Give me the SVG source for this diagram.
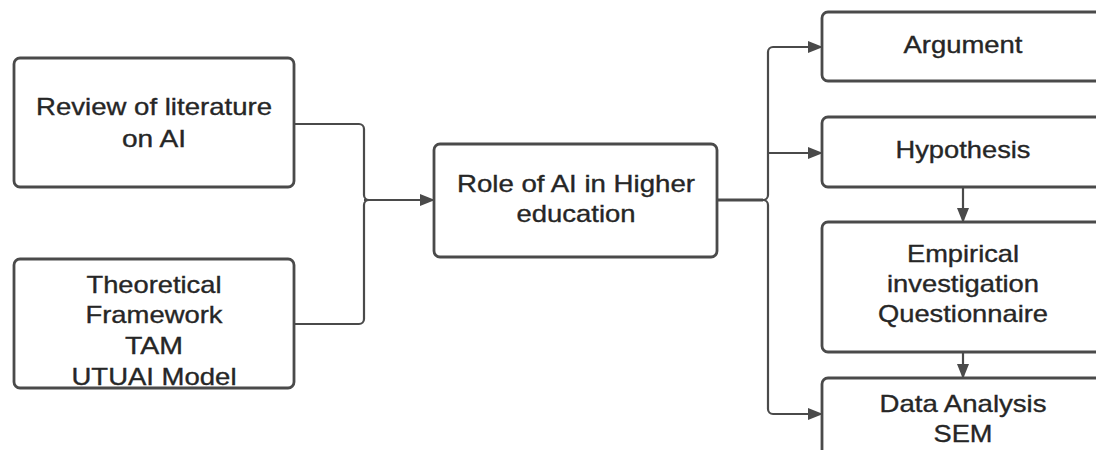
<svg xmlns="http://www.w3.org/2000/svg" width="1096" height="450" viewBox="0 0 1096 450">
  <style>
    .box { fill: #ffffff; stroke: #4a4a4a; stroke-width: 2.8; }
    .lbl { font-family: "Liberation Sans", Arial, sans-serif; font-size: 24px; fill: #262626; stroke: #262626; stroke-width: 0.35; text-anchor: middle; }
    .conn { fill: none; stroke: #4a4a4a; stroke-width: 2.2; }
  </style>
  <defs>
    <marker id="arrow" markerUnits="userSpaceOnUse" markerWidth="15" markerHeight="12" refX="14" refY="6" orient="auto">
      <path d="M0,0 L15,6 L0,12 Z" fill="#4a4a4a"/>
    </marker>
  </defs>
  <rect width="1096" height="450" fill="#ffffff"/>

  <g id="connectors">
    <path class="conn" d="M294,124 H359 A5,5 0 0 1 364,129 V195 A5,5 0 0 0 369,200"/>
    <path class="conn" d="M294,324 H359 A5,5 0 0 0 364,319 V205 A5,5 0 0 1 369,200"/>
    <path class="conn" d="M364,200 H434" marker-end="url(#arrow)"/>
    <path class="conn" style="stroke-width:3.2" d="M717,200 H763"/>
    <path class="conn" d="M717,200 H763 A5,5 0 0 0 768,195 V52 A5,5 0 0 1 773,47 H822" marker-end="url(#arrow)"/>
    <path class="conn" d="M768,153 H822" marker-end="url(#arrow)"/>
    <path class="conn" d="M717,200 H763 A5,5 0 0 1 768,205 V409 A5,5 0 0 0 773,414 H822" marker-end="url(#arrow)"/>
    <path class="conn" d="M963,187 V222" marker-end="url(#arrow)"/>
    <path class="conn" d="M963,352 V378" marker-end="url(#arrow)"/>
  </g>

  <g id="review">
    <rect class="box" x="14" y="58" width="280" height="129" rx="6"/>
    <text class="lbl" x="154" y="115" textLength="236" lengthAdjust="spacingAndGlyphs">Review of literature</text>
    <text class="lbl" x="154" y="147" textLength="64" lengthAdjust="spacingAndGlyphs">on AI</text>
  </g>

  <g id="theoretical">
    <rect class="box" x="14" y="259" width="280" height="129" rx="6"/>
    <text class="lbl" x="154" y="293" textLength="135" lengthAdjust="spacingAndGlyphs">Theoretical</text>
    <text class="lbl" x="154" y="323" textLength="137" lengthAdjust="spacingAndGlyphs">Framework</text>
    <text class="lbl" x="154" y="354" textLength="58" lengthAdjust="spacingAndGlyphs">TAM</text>
    <text class="lbl" x="154" y="385" textLength="165" lengthAdjust="spacingAndGlyphs">UTUAI Model</text>
  </g>

  <g id="role">
    <rect class="box" x="434" y="144" width="283" height="113" rx="6"/>
    <text class="lbl" x="576" y="192" textLength="238" lengthAdjust="spacingAndGlyphs">Role of AI in Higher</text>
    <text class="lbl" x="576" y="222" textLength="119" lengthAdjust="spacingAndGlyphs">education</text>
  </g>

  <g id="argument">
    <rect class="box" x="822" y="12" width="290" height="69" rx="6"/>
    <text class="lbl" x="963" y="53" textLength="119" lengthAdjust="spacingAndGlyphs">Argument</text>
  </g>

  <g id="hypothesis">
    <rect class="box" x="822" y="117" width="290" height="70" rx="6"/>
    <text class="lbl" x="963" y="158" textLength="135" lengthAdjust="spacingAndGlyphs">Hypothesis</text>
  </g>

  <g id="empirical">
    <rect class="box" x="822" y="222" width="290" height="130" rx="6"/>
    <text class="lbl" x="963" y="262" textLength="112" lengthAdjust="spacingAndGlyphs">Empirical</text>
    <text class="lbl" x="963" y="292" textLength="152" lengthAdjust="spacingAndGlyphs">investigation</text>
    <text class="lbl" x="963" y="322" textLength="170" lengthAdjust="spacingAndGlyphs">Questionnaire</text>
  </g>

  <g id="data-analysis">
    <rect class="box" x="822" y="378" width="290" height="90" rx="6"/>
    <text class="lbl" x="963" y="412" textLength="167" lengthAdjust="spacingAndGlyphs">Data Analysis</text>
    <text class="lbl" x="963" y="442" textLength="59" lengthAdjust="spacingAndGlyphs">SEM</text>
  </g>
</svg>
